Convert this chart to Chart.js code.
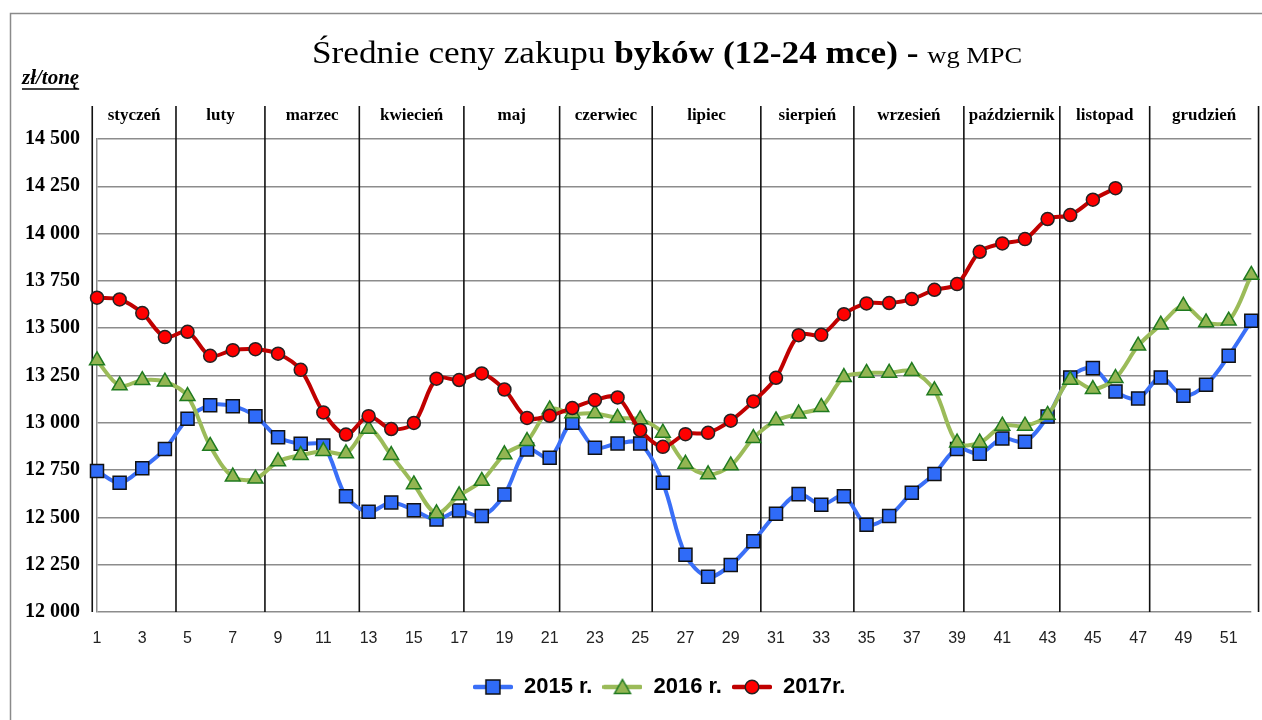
<!DOCTYPE html>
<html lang="pl">
<head>
<meta charset="utf-8">
<title>Średnie ceny zakupu byków</title>
<script src="https://cdn.jsdelivr.net/npm/chart.js@4.4.0/dist/chart.umd.min.js"></script>
<style>
  html, body { margin: 0; padding: 0; background: #fff; overflow: hidden; }
  #wrap { width: 1262px; height: 720px; position: relative; }
</style>
</head>
<body>
<div id="wrap"><canvas id="chart"></canvas></div>
<script>
// tygodnie roku
const weeks = [1,2,3,4,5,6,7,8,9,10,11,12,13,14,15,16,17,18,19,20,21,22,23,24,25,26,
               27,28,29,30,31,32,33,34,35,36,37,38,39,40,41,42,43,44,45,46,47,48,49,50,51,52];

// ceny zł/tonę
const prices2015 = [12745,12683,12760,12861,13021,13093,13088,13035,12924,12889,
                    12880,12612,12530,12579,12538,12489,12537,12507,12621,12859,
                    12815,13000,12868,12891,12891,12683,12302,12186,12248,12374,
                    12519,12623,12567,12612,12461,12507,12630,12730,12862,12837,
                    12917,12900,13033,13240,13289,13166,13129,13240,13143,13201,13354,13539];
const prices2016 = [13329,13197,13225,13217,13141,12877,12715,12704,12796,12829,
                    12850,12838,12968,12829,12674,12521,12616,12692,12833,12903,
                    13070,13049,13049,13026,13018,12947,12783,12727,12774,12919,
                    13012,13048,13083,13241,13263,13264,13273,13171,12895,12895,
                    12984,12984,13041,13227,13178,13236,13407,13518,13618,13530,13539,13781];
const prices2017 = [13661,13652,13580,13453,13481,13354,13384,13389,13365,13280,
                    13055,12938,13035,12967,12999,13233,13226,13261,13176,13026,
                    13037,13078,13120,13134,12961,12873,12940,12947,13011,13113,
                    13238,13463,13465,13574,13631,13633,13654,13703,13733,13904,
                    13948,13971,14077,14098,14179,14240];

const seriesNames = ['2015 r.', '2016 r.', '2017r.'];

// miesiące i ich granice (w tygodniach)
const monthNames = ['styczeń','luty','marzec','kwiecień','maj','czerwiec','lipiec',
                    'sierpień','wrzesień','październik','listopad','grudzień'];
const monthBounds = [0.79, 4.49, 8.42, 12.59, 17.21, 21.44, 25.53, 30.33, 34.44, 39.30, 43.54, 47.51, 52.32];

const yMin = 12000, yMax = 14500, yStep = 250;

const titleNormal = 'Średnie ceny zakupu ';
const titleBold = 'byków (12-24 mce)';
const titleDash = ' - ';
const titleSource = 'wg MPC';
const unitLabel = 'zł/tonę';

const SERIF = '"Liberation Serif", "DejaVu Serif", serif';
const SANS = '"Liberation Sans", Arial, sans-serif';

// ikonka legendy: linia + znacznik
function legendIcon(lineColor, fill, stroke, shape){
    const c = document.createElement('canvas');
    c.width = 40; c.height = 20;
    const g = c.getContext('2d');
    g.strokeStyle = lineColor; g.lineWidth = 4.5; g.lineCap = 'round';
    g.beginPath(); g.moveTo(2, 10); g.lineTo(38, 10); g.stroke();
    g.fillStyle = fill; g.strokeStyle = stroke; g.lineWidth = 1.5;
    g.beginPath();
    if (shape === 'rect') {
        g.rect(13, 3, 14, 14);
    } else if (shape === 'triangle') {
        g.moveTo(20, 2.5); g.lineTo(28, 16.5); g.lineTo(12, 16.5); g.closePath();
    } else {
        g.arc(20, 10, 6.8, 0, Math.PI * 2);
    }
    g.fill(); g.stroke();
    return c;
}

const icons = [
    legendIcon('#3a6ff7', '#2f6bf8', '#111', 'rect'),
    legendIcon('#9bbb59', '#93b552', '#1f7a1f', 'triangle'),
    legendIcon('#c00000', '#ff0000', '#222', 'circle')
];

const decorPlugin = {
    id: 'decor',
    afterLayout(chart){
        // legenda w oryginale jest lekko przesunięta w lewo
        chart.legend.left -= 15;
        chart.legend.right -= 15;
    },
    beforeDraw(chart){
        const {ctx, width, height} = chart;
        ctx.save();
        ctx.fillStyle = '#fff';
        ctx.fillRect(0, 0, width, height);
        ctx.strokeStyle = '#8a8a8a';
        ctx.lineWidth = 1.5;
        ctx.strokeRect(10.5, 13.5, width + 40, height + 40);
        ctx.restore();
    },
    beforeDatasetsDraw(chart){
        const {ctx} = chart;
        const x = chart.scales.x, y = chart.scales.y;
        ctx.save();
        // pionowe linie miesięcy
        ctx.strokeStyle = '#111';
        ctx.lineWidth = 1.6;
        const px = monthBounds.map(b => x.getPixelForValue(b - 1));
        px.forEach(p => {
            ctx.beginPath();
            ctx.moveTo(p, 106);
            ctx.lineTo(p, y.bottom);
            ctx.stroke();
        });
        // nazwy miesięcy
        ctx.font = 'bold 17px ' + SERIF;
        ctx.textAlign = 'center';
        ctx.textBaseline = 'middle';
        monthNames.forEach((m, i) => {
            const cx = (px[i] + px[i + 1]) / 2;
            const w = ctx.measureText(m).width;
            ctx.fillStyle = '#fff';
            ctx.fillRect(cx - w / 2 - 1, 106, w + 2, 22);
            ctx.fillStyle = '#000';
            ctx.fillText(m, cx, 116);
        });
        ctx.restore();
    },
    afterDraw(chart){
        const {ctx} = chart;
        ctx.save();
        ctx.fillStyle = '#000';
        ctx.textBaseline = 'alphabetic';
        ctx.textAlign = 'left';
        const parts = [
            [titleNormal, '32px ' + SERIF],
            [titleBold, 'bold 32px ' + SERIF],
            [titleDash, 'bold 32px ' + SERIF],
            [titleSource, '24px ' + SERIF]
        ];
        let total = 0;
        parts.forEach(p => { ctx.font = p[1]; p.push(ctx.measureText(p[0]).width); total += p[2]; });
        // tytuł rozciągnięty do szerokości oryginału
        const sx = 710 / total;
        ctx.save();
        ctx.translate(667 - 355, 63);
        ctx.scale(sx, 1);
        let tx = 0;
        parts.forEach(p => { ctx.font = p[1]; ctx.fillText(p[0], tx, 0); tx += p[2]; });
        ctx.restore();

        // jednostka
        ctx.font = 'italic bold 21px ' + SERIF;
        ctx.fillText(unitLabel, 22, 84);
        const uw = ctx.measureText(unitLabel).width;
        ctx.strokeStyle = '#000';
        ctx.lineWidth = 1.3;
        ctx.beginPath();
        ctx.moveTo(22, 89); ctx.lineTo(22 + uw, 89);
        ctx.stroke();
        ctx.restore();
    }
};

const ctx = document.getElementById('chart').getContext('2d');

new Chart(ctx, {
    type: 'line',
    data: {
        labels: weeks,
        datasets: [
            {
                label: seriesNames[0],
                data: prices2015,
                order: 3,
                borderColor: '#3a6ff7',
                backgroundColor: '#2f6bf8',
                borderWidth: 4,
                pointStyle: 'rect',
                pointRadius: 9.2,
                pointBackgroundColor: '#2f6bf8',
                pointBorderColor: '#111',
                pointBorderWidth: 1.5,
                tension: 0.33,
                clip: false
            },
            {
                label: seriesNames[1],
                data: prices2016,
                order: 2,
                borderColor: '#9bbb59',
                backgroundColor: '#93b552',
                borderWidth: 4,
                pointStyle: 'triangle',
                pointRadius: 8.6,
                pointBackgroundColor: '#93b552',
                pointBorderColor: '#1f7a1f',
                pointBorderWidth: 1.5,
                tension: 0.33,
                clip: false
            },
            {
                label: seriesNames[2],
                data: prices2017,
                order: 1,
                borderColor: '#c00000',
                backgroundColor: '#ff0000',
                borderWidth: 4,
                pointStyle: 'circle',
                pointRadius: 6.5,
                pointBackgroundColor: '#ff0000',
                pointBorderColor: '#222',
                pointBorderWidth: 1.5,
                tension: 0.33,
                clip: false
            }
        ]
    },
    options: {
        responsive: true,
        maintainAspectRatio: false,
        animation: false,
        events: [],
        layout: {
            padding: {top: 139, right: 10, bottom: 12, left: 0}
        },
        plugins: {
            title: {display: false},
            tooltip: {enabled: false},
            legend: {
                display: true,
                position: 'bottom',
                fullSize: false,
                labels: {
                    usePointStyle: true,
                    pointStyleWidth: 40,
                    padding: 10,
                    color: '#000',
                    font: {family: SANS, size: 22, weight: 'bold'},
                    sort: (a, b) => a.datasetIndex - b.datasetIndex,
                    generateLabels(chart){
                        const items = Chart.defaults.plugins.legend.labels.generateLabels(chart);
                        items.forEach(it => { it.pointStyle = icons[it.datasetIndex]; });
                        return items;
                    }
                }
            }
        },
        scales: {
            x: {
                type: 'category',
                offset: false,
                grid: {display: false, drawTicks: false},
                border: {display: false},
                afterFit(scale){
                    scale.height = 54;
                    scale.paddingLeft = 0;
                    scale.paddingRight = 0;
                },
                ticks: {
                    autoSkip: false,
                    maxRotation: 0,
                    padding: 17,
                    color: '#222',
                    font: {family: SANS, size: 16},
                    callback: (v, i) => (i % 2 === 0 ? String(weeks[i]) : '')
                }
            },
            y: {
                min: yMin,
                max: yMax,
                grid: {color: '#8c8c8c', lineWidth: 1.5, drawTicks: false},
                border: {display: true, color: '#8c8c8c', width: 1.5},
                afterFit(scale){ scale.width = 97; },
                ticks: {
                    stepSize: yStep,
                    padding: 17,
                    color: '#000',
                    font: {family: SERIF, size: 20, weight: 'bold'},
                    callback: v => Math.floor(v / 1000) + ' ' + String(v % 1000).padStart(3, '0')
                }
            }
        }
    },
    plugins: [decorPlugin]
});
</script>
</body>
</html>
